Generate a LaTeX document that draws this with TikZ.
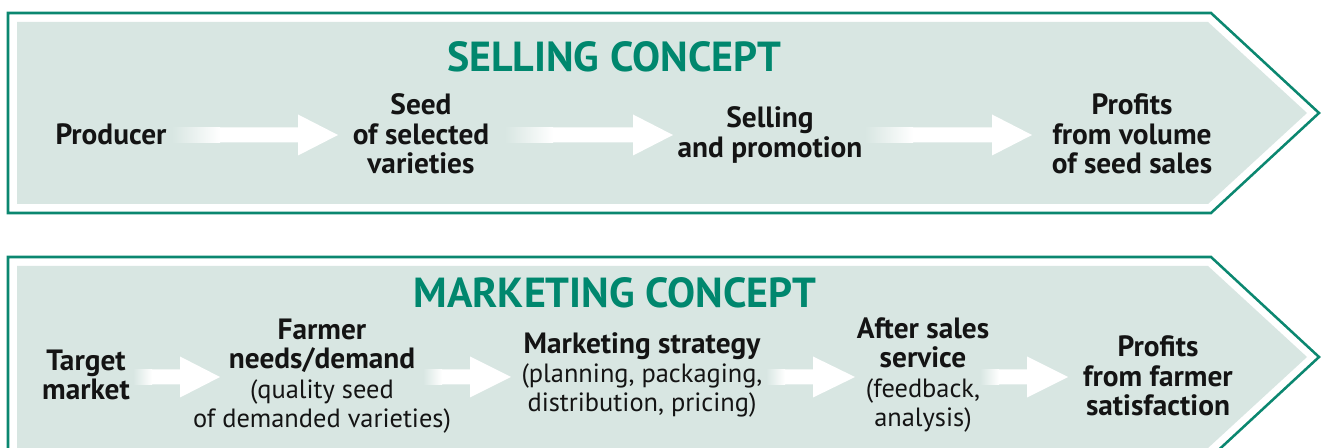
\documentclass[tikz,border=0pt]{standalone}
\usepackage{fontspec}
\setmainfont{PT Sans}
\definecolor{cteal}{HTML}{0B8770}
\definecolor{ctitle}{HTML}{00876E}
\definecolor{cfill}{HTML}{D8E6E2}
\definecolor{ctext}{HTML}{141414}
\newcommand{\blockarrow}[5]{%
  \shade[left color=cfill, right color=white] (#1,#5-7.5) rectangle (#2,#5+7.5);
  \fill[white] (#2-0.5,#5-7.5) -- (#3,#5-7.5) -- (#3,#5-20.5) -- (#4,#5) -- (#3,#5+20.5) -- (#3,#5+7.5) -- (#2-0.5,#5+7.5) -- cycle;}
\tikzset{
  outerbox/.style={draw=cteal, line width=1.9pt, fill=white},
  innerbox/.style={fill=cfill},
  ttl/.style={text=ctitle, font=\fontsize{31.5}{32}\selectfont\bfseries, inner sep=0pt},
  lbl/.style={text=ctext, font=\fontsize{22}{22}\selectfont\bfseries, align=center, inner sep=0pt},
}
\newcommand{\sub}[1]{{\fontsize{19.8}{22}\selectfont\mdseries #1}}
\begin{document}
\begin{tikzpicture}[x=0.75pt,y=-0.75pt]
\useasboundingbox (0,0) rectangle (1322,448);
% top shape
\draw[outerbox] (8,13) -- (1211,13) -- (1319,113) -- (1211,213) -- (8,213) -- cycle;
\fill[innerbox] (17,22) -- (1208,22) -- (1307,113) -- (1208,204) -- (17,204) -- cycle;
% bottom shape
\draw[outerbox] (8,257) -- (1211,257) -- (1319,357) -- (1211,457) -- (8,457) -- cycle;
\fill[innerbox] (17,266) -- (1208,266) -- (1307,357) -- (1208,448) -- (17,448) -- cycle;

\node[ttl] (t1) at (614,57) {SELLING CONCEPT};
\node[ttl] (t2) at (615,293) {MARKETING CONCEPT};

% top row
\blockarrow{172}{220}{298}{338}{135}
\blockarrow{505}{553}{633}{673}{135}
\blockarrow{865}{913}{992}{1032}{135}
\node[lbl] (p) at (111,134) {Producer};
\node[lbl] (s) at (421,134) {Seed\\of selected\\varieties};
\node[lbl] (sp) at (770,135) {Selling\\and promotion};
\node[lbl] (pv) at (1132,134) {Profits\\from volume\\of seed sales};

% bottom row
\blockarrow{133}{152}{180}{220}{377}
\blockarrow{423}{442}{470}{511}{377}
\blockarrow{766}{785}{813}{855}{377}
\blockarrow{980}{999}{1027}{1068}{377}
\node[lbl] (tm) at (86,375) {Target\\market};
\node[lbl] (fn) at (322,376) {Farmer\\needs/demand\\\sub{(quality seed}\\\sub{of demanded varieties)}};
\node[lbl] (ms) at (642,375) {Marketing strategy\\\sub{(planning, packaging,}\\\sub{distribution, pricing)}};
\node[lbl] (as) at (923,375) {After sales\\service\\\sub{(feedback,}\\\sub{analysis)}};
\node[lbl] (pf) at (1158,376) {Profits\\from farmer\\satisfaction};
\end{tikzpicture}
\end{document}
